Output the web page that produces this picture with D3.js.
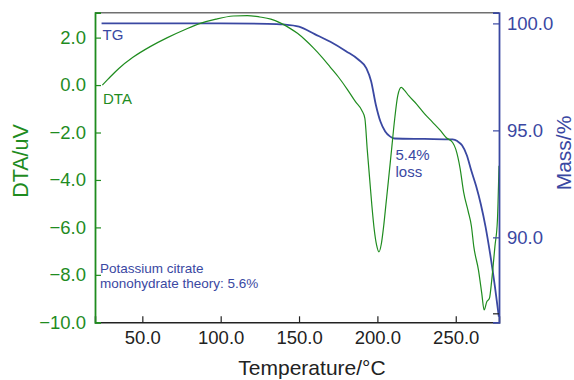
<!DOCTYPE html>
<html><head><meta charset="utf-8">
<script src="https://cdn.jsdelivr.net/npm/d3@7"></script>
<style>
body{margin:0;background:#fff;}
svg{display:block;font-family:"Liberation Sans",Arial,Helvetica,sans-serif;}
</style></head>
<body>
<svg id="chart" width="574" height="380"></svg>
<script>
// ---- data ----
const xTicks = [50, 100, 150, 200, 250];
const dtaTicks = [-10, -8, -6, -4, -2, 0, 2];
const massTicks = [90, 95, 100];

const tgTemp = [24, 60, 100, 130, 140, 150, 160, 170, 180, 188, 193, 196, 199, 202, 205, 208, 211, 230, 248, 251, 254, 257, 260, 263, 266, 269, 272, 275, 277.5];
const tgMass = [100.0, 100.0, 100.0, 99.98, 99.95, 99.85, 99.5, 99.14, 98.7, 98.3, 97.9, 97.3, 96.2, 95.4, 94.95, 94.72, 94.62, 94.6, 94.58, 94.5, 94.3, 93.85, 93.1, 92.4, 91.55, 90.5, 89.2, 87.7, 86.3];

const dtaTemp = [24.5, 26, 29.6, 35, 44, 55, 66, 77, 87, 97, 108, 117, 125, 132, 138, 144, 149, 154, 159, 165, 170, 175, 181, 186, 190, 192, 193.5, 195, 196.5, 198, 199.5, 201, 202.5, 204, 205.5, 207, 209, 211, 213, 215.2, 217, 220, 225, 230, 235, 240, 244, 248, 250, 252.8, 255, 258, 260, 261.5, 264.5, 266.6, 268.1, 269.8, 271.5, 273, 275, 276.6, 277.6];
const dtaVal = [0.0, 0.1, 0.35, 0.7, 1.17, 1.62, 2.0, 2.33, 2.6, 2.78, 2.91, 2.93, 2.87, 2.78, 2.62, 2.4, 2.18, 1.9, 1.58, 1.15, 0.75, 0.35, -0.2, -0.7, -1.06, -1.4, -2.7, -3.9, -5.1, -6.1, -6.75, -7.03, -6.7, -5.95, -5.0, -4.05, -2.75, -1.45, -0.45, -0.1, -0.2, -0.45, -0.8, -1.2, -1.55, -1.9, -2.22, -2.42, -2.7, -3.52, -4.5, -5.34, -5.95, -6.8, -7.8, -8.78, -9.48, -9.13, -8.99, -8.2, -6.8, -5.69, -3.4];

// ---- layout ----
const L = 95, R = 499, T = 12.7, B = 322.3;
const green = "#1f8c1f", blue = "#3a48a2";
const svg = d3.select("#chart");

const x = d3.scaleLinear().domain([19.8, 277.6]).range([L, R]);
const yL = d3.scaleLinear().domain([-10, 3.05]).range([B, T]);
const yR = d3.scaleLinear().domain([86.03, 100.5]).range([B, T]);

const fmt = v => (v < 0 ? "\u2212" + Math.abs(v).toFixed(1) : v.toFixed(1));

// curves
const dtaLine = d3.line().x((d, i) => x(dtaTemp[i])).y(d => yL(d)).curve(d3.curveMonotoneX);
const tgLine = d3.line().x((d, i) => x(tgTemp[i])).y(d => yR(d)).curve(d3.curveMonotoneX);

svg.append("path").attr("d", tgLine(tgMass)).attr("fill", "none")
  .attr("stroke", blue).attr("stroke-width", 1.8);
svg.append("path").attr("d", dtaLine(dtaVal)).attr("fill", "none")
  .attr("stroke", green).attr("stroke-width", 1.2);

// top frame
svg.append("line").attr("x1", L).attr("x2", R).attr("y1", T).attr("y2", T)
  .attr("stroke", "#707070").attr("stroke-width", 1.5);

// bottom axis
const gx = svg.append("g").attr("transform", `translate(0,${B})`)
  .call(d3.axisBottom(x).tickValues(xTicks).tickFormat(d => d.toFixed(1)).tickSize(-6).tickPadding(9));
gx.select(".domain").attr("stroke", "#222").attr("stroke-width", 1.5);
gx.selectAll(".tick line").attr("stroke", "#222").attr("stroke-width", 1.2);
gx.selectAll("text").attr("fill", "#222").style("font-size", "18.5px");

// left axis
const gl = svg.append("g").attr("transform", `translate(${L},0)`)
  .call(d3.axisLeft(yL).tickValues(dtaTicks).tickFormat(fmt).tickSize(-6).tickPadding(9));
gl.select(".domain").attr("stroke", green).attr("stroke-width", 1.8);
gl.selectAll(".tick line").attr("stroke", green).attr("stroke-width", 1.2);
gl.selectAll("text").attr("fill", green).style("font-size", "18.5px");

// right axis
const gr = svg.append("g").attr("transform", `translate(${R},0)`)
  .call(d3.axisRight(yR).tickValues(massTicks.concat([86.45])).tickFormat(d => massTicks.includes(d) ? d.toFixed(1) : "").tickSize(-6).tickPadding(8));
gr.select(".domain").attr("stroke", blue).attr("stroke-width", 1.8);
gr.selectAll(".tick line").attr("stroke", blue).attr("stroke-width", 1.2);
gr.selectAll("text").attr("fill", blue).style("font-size", "18.5px");
gr.selectAll(".tick").filter(d => d === 86.45).select("line").attr("stroke", "#222");

// axis titles
svg.append("text").attr("x", 312).attr("y", 375).attr("text-anchor", "middle")
  .attr("fill", "#222").style("font-size", "21px").text("Temperature/\u00b0C");
svg.append("text").attr("transform", "translate(28,161) rotate(-90)").attr("text-anchor", "middle")
  .attr("fill", green).style("font-size", "21.5px").text("DTA/uV");
svg.append("text").attr("transform", "translate(571,153) rotate(-90)").attr("text-anchor", "middle")
  .attr("fill", blue).style("font-size", "21px").text("Mass/%");

// annotations
const ann = (tx, ty, txt, col, fs) => svg.append("text").attr("x", tx).attr("y", ty)
  .attr("fill", col).style("font-size", fs).text(txt);
ann(102.5, 40, "TG", blue, "15px");
ann(103, 104, "DTA", green, "15px");
ann(395.5, 160, "5.4%", blue, "15px");
ann(395.5, 177, "loss", blue, "15px");
ann(100, 273, "Potassium citrate", blue, "13.5px");
ann(100, 288, "monohydrate theory: 5.6%", blue, "13.5px");
</script>
</body></html>
